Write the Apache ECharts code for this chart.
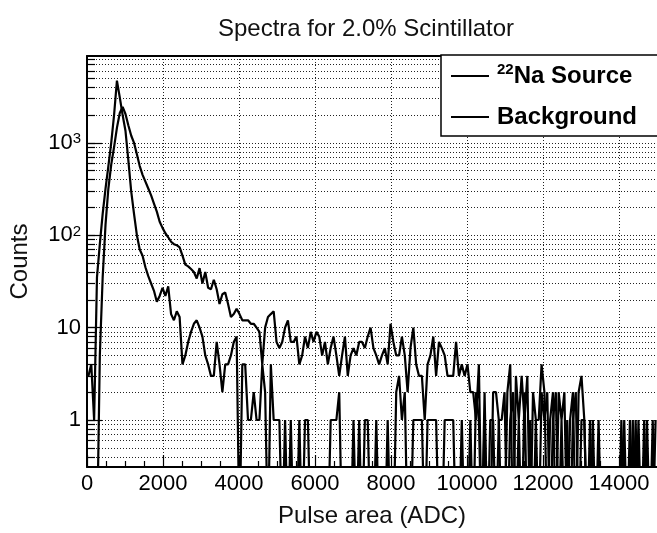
<!DOCTYPE html>
<html><head><meta charset="utf-8">
<script src="https://cdn.jsdelivr.net/npm/echarts@6/dist/echarts.min.js"></script>
<style>html,body{margin:0;padding:0;background:#fff}#c{width:657px;height:533px}</style>
</head><body><div id="c"></div>
<script>
// ---- data (histogram, 75 ADC bins from 0 to 15000) ----
const binWidth = 75;
const xTickLabels = [0, 2000, 4000, 6000, 8000, 10000, 12000, 14000];
const yTickLabels = [1, 10, 100, 1000];
const seriesNames = ['22Na Source', 'Background'];
const naSource = [
  0,0,0,0,5,35,130,320,580,900,
  1450,2100,2450,2050,1550,1200,1000,750,560,450,
  380,320,270,220,180,140,120,105,95,85,
  80,78,74,60,48,46,43,40,34,44,
  30,40,27,26,33,26,18,23,24,18,
  13,14,16,14,12,12,12,11,11,10,
  9,4,10,13,14,15,7,6,7,10,
  12,7,7,8,4,5,8,6,9,7,
  9,8,5,7,4,6,8,5,3,5,
  8,3,5,6,5,7,7,6,8,10,
  6,5,4,5,6,4,11,7,5,5,
  8,5,2,6,10,4,3,3,1,4,
  5,8,3,7,6,5,3,3,3,7,
  3,4,3,4,2,2,1,4,0,1,
  0,0,2,2,1,0,0,2,4,0,
  3,1,3,1,3,0,2,1,1,4,
  2,0,1,2,0,2,1,2,0,1,
  2,0,2,3,1,0,1,0,0,1,
  0,0,0,0,0,0,0,1,0,0,
  1,0,1,0,0,1,0,0,1,0
];
const background = [
  3,4,1,35,80,170,320,560,1000,2000,
  4700,3100,2000,1350,650,300,170,100,70,60,
  45,36,30,25,19,22,27,22,28,14,
  12,15,13,4,5,7,9,11,12,10,
  8,5,4,3,3,7,4,2,4,4,
  5,7,8,0,4,4,1,1,2,1,
  1,4,2,0,4,1,1,1,0,1,
  0,1,0,0,1,0,1,1,0,0,
  0,0,0,0,0,1,1,1,2,0,
  0,0,0,1,0,1,0,1,1,0,
  0,1,0,0,0,1,0,0,2,3,
  1,2,0,0,1,1,1,1,0,1,
  1,1,1,0,0,1,1,1,1,0,
  0,1,0,0,1,0,2,1,0,2,
  0,1,1,0,1,1,2,0,1,2,
  0,1,0,2,0,1,0,1,0,2,
  1,2,0,1,2,0,1,0,1,0,
  1,2,0,1,1,0,0,1,0,0,
  0,0,0,0,0,0,0,0,1,0,
  0,1,0,1,0,0,1,0,0,1
];

// ---- axis setup ----
const X_MIN = 0, X_MAX = 15000;
const Y_MIN = 0.31, Y_MAX = 8700;
const ZERO_SHOWN = 0.05; // empty bins drawn below the frame (clipped), as ROOT does on log scale
const FONT = '"Liberation Sans", Arial, Helvetica, sans-serif';

const xMinor = [];
for (let x = 500; x < X_MAX; x += 500) if (x % 2000 !== 0) xMinor.push(x);
const yDecades = [];
const yAll = [];
for (let d = 0.1; d <= 1000; d *= 10) {
  for (let k = 1; k <= 9; k++) {
    const v = +(k * d).toPrecision(3);
    if (v >= Y_MIN && v <= Y_MAX) { yAll.push(v); if (k === 1) yDecades.push(v); }
  }
}
function toPoints(arr) {
  return arr.map((v, i) => [binWidth * (i + 0.5), v > 0 ? v : ZERO_SHOWN]);
}
function yLabel(v) {
  if (v === 1) return '1';
  if (v === 10) return '10';
  const e = Math.round(Math.log10(v));
  return '10{sup|' + e + '}';
}

const chart = echarts.init(document.getElementById('c'), null, {renderer: 'canvas'});
const gridDots = {type: [1, 2], color: '#222', width: 1};
chart.setOption({
  animation: false,
  backgroundColor: '#fff',
  textStyle: {fontFamily: FONT},
  title: {
    text: 'Spectra for 2.0% Scintillator',
    left: 366, top: 17, textAlign: 'center', padding: 0,
    textStyle: {fontSize: 24, fontWeight: 'normal', color: '#111', fontFamily: FONT}
  },
  grid: {left: 85, right: -2, top: 56, bottom: 66, containLabel: false},
  legend: {
    left: 441, top: 55, orient: 'vertical',
    icon: 'rect', itemWidth: 38, itemHeight: 2, itemGap: 17,
    padding: [7, 40, 7, 10],
    itemStyle: {color: '#000'},
    backgroundColor: '#fff', borderColor: '#000', borderWidth: 1.5, borderRadius: 0,
    data: seriesNames,
    formatter: function (name) {
      if (name === seriesNames[0]) return '{sup|22}{main|Na Source}';
      return '{main|' + name + '}';
    },
    textStyle: {
      color: '#000', fontFamily: FONT, padding: [0, 0, 0, 3],
      rich: {
        sup: {fontSize: 15, fontWeight: 'bold', lineHeight: 15, verticalAlign: 'top', fontFamily: FONT, color: '#000'},
        main: {fontSize: 24, fontWeight: 'bold', lineHeight: 28, fontFamily: FONT, color: '#000'}
      }
    }
  },
  xAxis: [
    {
      type: 'value', position: 'bottom', min: X_MIN, max: X_MAX,
      axisLine: {show: true, onZero: false, lineStyle: {color: '#000', width: 2}},
      axisTick: {show: true, inside: true, length: 12, customValues: xTickLabels, lineStyle: {color: '#000', width: 1.2}},
      axisLabel: {customValues: xTickLabels, margin: 6, fontSize: 22, color: '#000', fontFamily: FONT,
        formatter: function (v) { return String(v); }},
      splitLine: {show: true, lineStyle: gridDots},
      name: 'Pulse area (ADC)', nameLocation: 'middle', nameGap: 37,
      nameTextStyle: {fontSize: 24, color: '#111', fontFamily: FONT}
    },
    {
      type: 'value', position: 'bottom', min: X_MIN, max: X_MAX,
      axisLine: {show: false},
      axisTick: {show: true, inside: true, length: 6, customValues: xMinor, lineStyle: {color: '#000', width: 1.2}},
      axisLabel: {show: false}, splitLine: {show: false}
    },
    {
      type: 'value', position: 'top', min: X_MIN, max: X_MAX,
      axisLine: {show: true, onZero: false, lineStyle: {color: '#000', width: 2}},
      axisTick: {show: false}, axisLabel: {show: false}, splitLine: {show: false}
    }
  ],
  yAxis: [
    {
      type: 'log', logBase: 10, position: 'left', min: Y_MIN, max: Y_MAX,
      axisLine: {show: true, onZero: false, lineStyle: {color: '#000', width: 2}},
      axisTick: {show: true, inside: true, length: 8, customValues: yAll, lineStyle: {color: '#000', width: 1.2}},
      axisLabel: {
        customValues: yTickLabels, margin: 6, fontSize: 22, color: '#000', fontFamily: FONT,
        formatter: yLabel,
        rich: {sup: {fontSize: 15, verticalAlign: 'top', lineHeight: 14, color: '#000', fontFamily: FONT}}
      },
      splitLine: {show: true, lineStyle: gridDots},
      name: 'Counts', nameLocation: 'middle', nameGap: 55,
      nameTextStyle: {fontSize: 24, color: '#111', fontFamily: FONT}
    },
    {
      type: 'log', logBase: 10, position: 'left', min: Y_MIN, max: Y_MAX,
      axisLine: {show: false},
      axisTick: {show: true, inside: true, length: 15, customValues: yDecades, lineStyle: {color: '#000', width: 1.2}},
      axisLabel: {show: false}, splitLine: {show: false}
    }
  ],
  series: [
    {
      name: seriesNames[0], type: 'line', xAxisIndex: 0, yAxisIndex: 0,
      data: toPoints(naSource), symbol: 'none', clip: true, z: 3,
      lineStyle: {color: '#000', width: 2.2}, itemStyle: {color: '#000'}
    },
    {
      name: seriesNames[1], type: 'line', xAxisIndex: 0, yAxisIndex: 0,
      data: toPoints(background), symbol: 'none', clip: true, z: 3,
      lineStyle: {color: '#000', width: 2.2}, itemStyle: {color: '#000'}
    }
  ]
});
</script></body></html>
